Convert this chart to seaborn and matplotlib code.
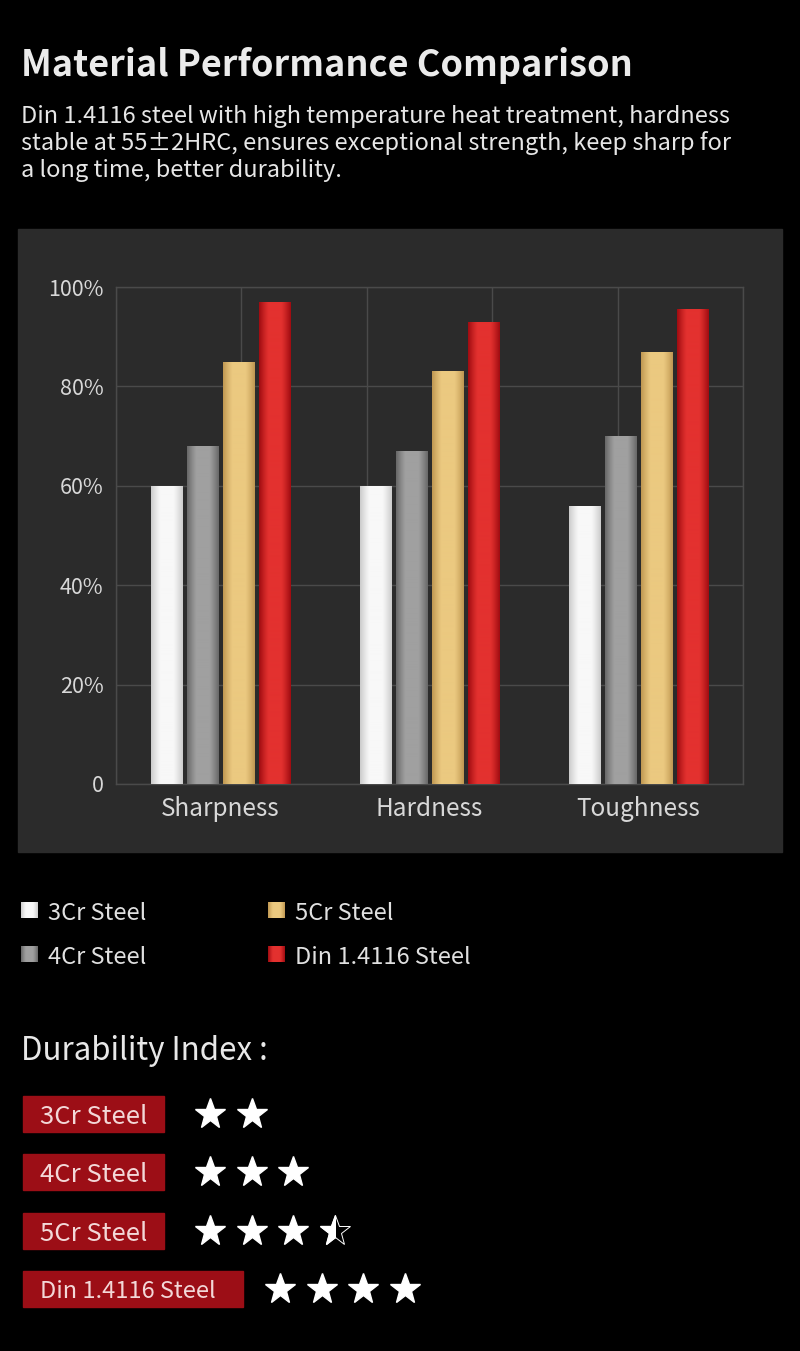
import matplotlib
matplotlib.use("Agg")
import matplotlib.pyplot as plt
import numpy as np
import pandas as pd
import seaborn as sns
from matplotlib.patches import Rectangle
from matplotlib.colors import LinearSegmentedColormap

# data
categories = ["Sharpness", "Hardness", "Toughness"]
steels = ["3Cr Steel", "4Cr Steel", "5Cr Steel", "Din 1.4116 Steel"]
sharpness = [60, 68, 85, 97]
hardness = [60, 67, 83, 93]
toughness = [56, 70, 87, 95.5]
y_ticks = [0, 20, 40, 60, 80, 100]
y_tick_labels = ["0", "20%", "40%", "60%", "80%", "100%"]
durability = [2, 3, 3.5, 4]

title = "Material Performance Comparison"
subtitle = ["Din 1.4116 steel with high temperature heat treatment, hardness",
            "stable at 55\u00b12HRC, ensures exceptional strength, keep sharp for",
            "a long time, better durability."]

# (edge, centre) colours of each bar gradient
grad_cols = [("#cccccc", "#f8f8f8"), ("#686868", "#a0a0a0"),
             ("#c09852", "#ebc980"), ("#a00c11", "#e3312f")]

df = pd.DataFrame({
    "category": np.repeat(categories, len(steels)),
    "steel": steels * len(categories),
    "value": sharpness + hardness + toughness,
})

sns.set_theme(style="dark")
plt.rcParams['font.family'] = ['Noto Sans CJK SC', 'DejaVu Sans']

W, H = 800, 1351
fig = plt.figure(figsize=(W / 100, H / 100), dpi=100, facecolor="black")

# overlay in pixel coords
ov = fig.add_axes([0, 0, 1, 1], zorder=0)
ov.set_xlim(0, W)
ov.set_ylim(H, 0)
ov.axis("off")
ov.set_facecolor("black")
ov.add_patch(Rectangle((18, 229), 764, 623, color="#2b2b2b", zorder=0))


def grad_img(edge, centre, n=64):
    cmap = LinearSegmentedColormap.from_list("g", [edge, centre])
    t = np.linspace(0, 1, n)
    prof = np.clip(np.sin(np.pi * t) * 1.25, 0, 1)
    return cmap(prof)[None, :, :]


# chart
ax = fig.add_axes([116 / W, 1 - 784 / H, 627 / W, 497 / H], zorder=1)
ax.set_facecolor("#2b2b2b")
sns.barplot(data=df, x="category", y="value", hue="steel", hue_order=steels,
            palette=[c[1] for c in grad_cols], width=0.69, gap=0.14,
            saturation=1, legend=False, ax=ax, zorder=3, linewidth=0)

for cont, (edge, centre) in zip(ax.containers, grad_cols):
    for p in cont:
        p.set_linewidth(0)
        x0, w, h = p.get_x(), p.get_width(), p.get_height()
        im = ax.imshow(grad_img(edge, centre), extent=(x0, x0 + w, 0, h),
                       aspect="auto", zorder=4, interpolation="bilinear")
        im.set_clip_path(p)

ax.set_xlim(-0.5, 2.5)
ax.set_ylim(0, 100)
ax.set_yticks(y_ticks)
ax.set_yticklabels(y_tick_labels)
ax.set_xticks(np.linspace(-0.5, 2.5, 6), minor=True)
ax.grid(False)
ax.grid(axis="y", which="major", color="#4a4a4a", lw=1, zorder=0)
ax.grid(axis="x", which="minor", color="#4a4a4a", lw=1, zorder=0)
ax.set_axisbelow(True)
for s in ax.spines.values():
    s.set_visible(True)
    s.set_color("#4a4a4a")
    s.set_linewidth(1)
ax.tick_params(axis="y", colors="#d8d8d8", labelsize=15.5, pad=9, length=0)
ax.tick_params(axis="x", colors="#d8d8d8", labelsize=17.5, pad=9, length=0)
ax.tick_params(axis="x", which="minor", length=0)
ax.set_xlabel("")
ax.set_ylabel("")

# title text
ov.text(21, 66, title, fontsize=26, fontweight="bold", color="#ebebeb", va="center")
for i, line in enumerate(subtitle):
    ov.text(21, 116 + 27 * i, line, fontsize=17, color="#e6e6e6", va="center")

# legend
leg_pos = [(21, 910), (21, 954), (268, 910), (268, 954)]
for (lx, ly), name, (edge, centre) in zip(leg_pos, steels, grad_cols):
    ov.imshow(grad_img(edge, centre), extent=(lx, lx + 17, ly + 8, ly - 8),
              aspect="auto", interpolation="bilinear", zorder=2)
    ov.text(lx + 27, ly + 3, name, fontsize=17, color="#e0e0e0", va="center")

# durability
ov.text(21, 1051, "Durability Index :", fontsize=22.5, color="#e8e8e8", va="center")
row_y = [1114, 1172, 1231, 1289]
box_w = [141, 141, 141, 220]
star_x0 = [210, 210, 210, 280]
for yy, name, bw, sx, r in zip(row_y, steels, box_w, star_x0, durability):
    ov.add_patch(Rectangle((23, yy - 18), bw, 36, color="#9c0e16", zorder=2))
    ov.text(40, yy + 3, name, fontsize=18.5 if bw < 200 else 17, color="#f3d8d8",
            va="center", zorder=3)
    full = int(r)
    xs = [sx + 41.5 * k for k in range(full)]
    ov.plot(xs, [yy] * full, ls="none", marker="*", ms=23, color="white",
            mec="white", zorder=3)
    if r > full:
        hx = sx + 41.5 * full
        ov.plot([hx], [yy], ls="none", marker="*", ms=23, mfc="none",
                mec="white", mew=0.7, zorder=3)
        half, = ov.plot([hx], [yy], ls="none", marker="*", ms=23, color="white",
                        mec="white", zorder=3)
        half.set_clip_path(Rectangle((hx - 20, yy - 20), 20, 40, transform=ov.transData))

ov.set_xlim(0, W)
ov.set_ylim(H, 0)

fig.savefig("out.png", dpi=100, facecolor="black")
